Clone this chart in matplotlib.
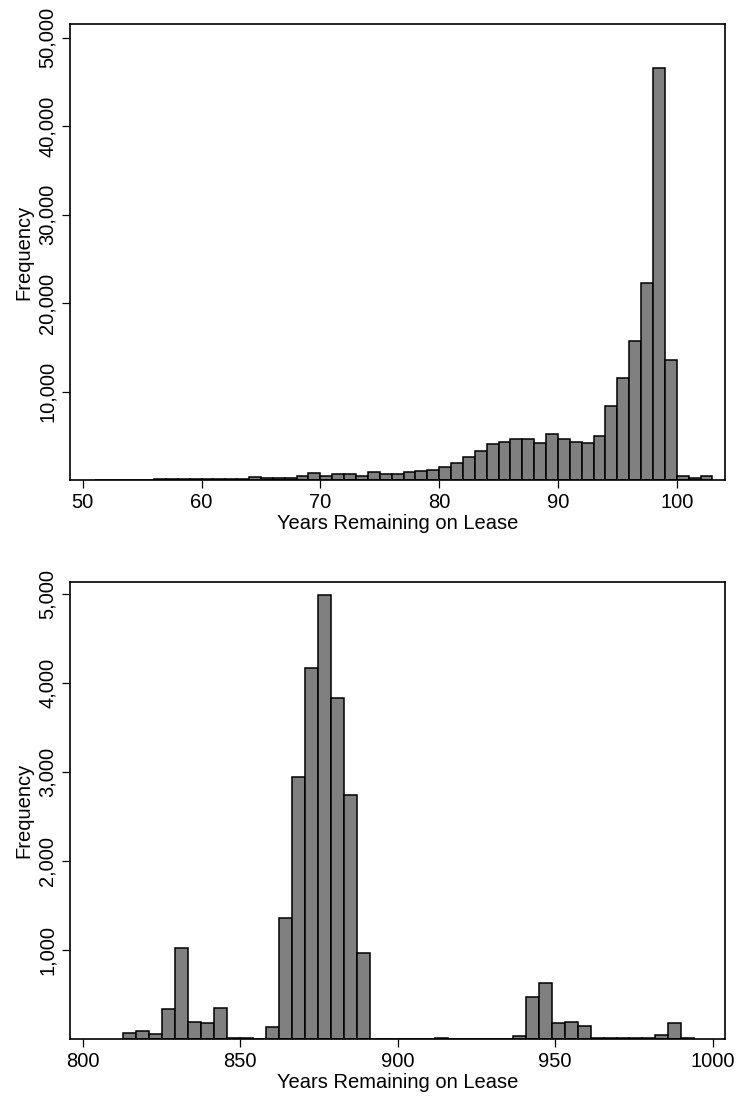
import numpy as np
import matplotlib
matplotlib.use("Agg")
import matplotlib.pyplot as plt
from matplotlib.ticker import FuncFormatter

plt.rcParams['font.family'] = ['Liberation Sans', 'DejaVu Sans']

# short leases: 1-year bins starting at 51
short_start = 51
short_width = 1
short_counts = [40, 50, 50, 60, 60, 70, 80, 70, 90,
                100, 80, 160, 160, 300, 230, 240, 270, 420, 760,
                500, 720, 730, 500, 900, 700, 680, 870, 1020, 1130,
                1430, 1920, 2560, 3310, 4030, 4330, 4630, 4630, 4180, 5200,
                4630, 4330, 4140, 5010, 8320, 11560, 15670, 22220, 46510, 13560,
                490, 260, 410]
short_ticks = [50, 60, 70, 80, 90, 100]
short_yticks = [10000, 20000, 30000, 40000, 50000]

# long leases: ~4.12-year bins starting at 812.9
long_start = 812.9
long_width = 4.12
long_counts = [72, 90, 57, 336, 1023, 196, 185, 351, 8, 8,
               0, 132, 1366, 2947, 4170, 4990, 3838, 2740, 962, 0,
               0, 0, 0, 0, 8, 0, 0, 0, 0, 0,
               38, 472, 626, 181, 196, 143, 15, 15, 11, 8,
               8, 49, 177, 8]
long_ticks = [800, 850, 900, 950, 1000]
long_yticks = [1000, 2000, 3000, 4000, 5000]

fig = plt.figure(figsize=(7.38, 10.99), dpi=100)
ax1 = fig.add_axes([0.0949, 0.5632, 0.8875, 0.4149])
ax2 = fig.add_axes([0.0949, 0.0546, 0.8875, 0.4156])

comma = FuncFormatter(lambda v, p: f"{int(v):,}")


def draw(ax, start, width, counts, xticks, yticks, xlim, ylim):
    lefts = start + width * np.arange(len(counts))
    ax.bar(lefts, counts, width=width, align='edge', color='#808080',
           edgecolor='black', linewidth=1.1)
    ax.set_xlim(*xlim)
    ax.set_ylim(*ylim)
    ax.set_xticks(xticks)
    ax.set_yticks(yticks)
    ax.yaxis.set_major_formatter(comma)
    ax.tick_params(axis='both', direction='out', length=5.5, width=0.9,
                   labelsize=14.5, pad=4)
    for lab in ax.get_yticklabels():
        lab.set_rotation(90)
        lab.set_va('center')
    for s in ax.spines.values():
        s.set_linewidth(1.2)
    ax.set_xlabel("Years Remaining on Lease", fontsize=14.5, labelpad=1)
    ax.set_ylabel("Frequency", fontsize=14.5, labelpad=3)


draw(ax1, short_start, short_width, short_counts, short_ticks, short_yticks,
     (48.93, 104.06), (0, 51525))
draw(ax2, long_start, long_width, long_counts, long_ticks, long_yticks,
     (796.0, 1003.9), (0, 5137))

fig.savefig("out.png", dpi=100)
